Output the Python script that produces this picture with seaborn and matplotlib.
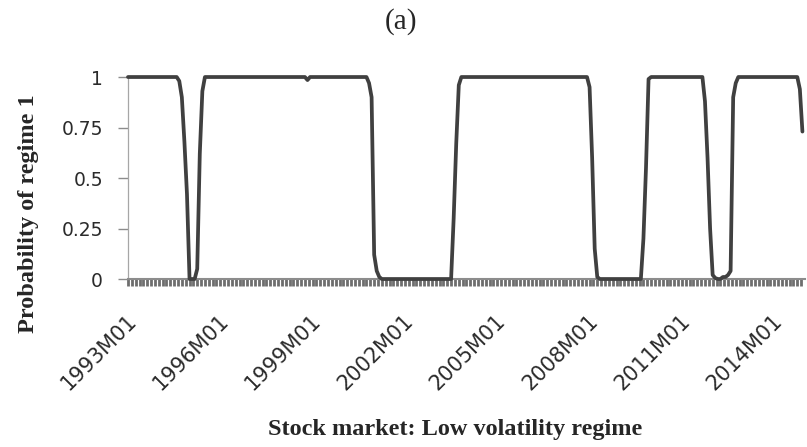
import numpy as np
import pandas as pd
import matplotlib
matplotlib.use('Agg')
import matplotlib.pyplot as plt
import matplotlib.transforms as mtransforms
import seaborn as sns

sns.set_style('white')

# Smoothed probability of regime 1, monthly, 1993M01 - 2014M12
prob = ([1.0] * 20
        + [0.98, 0.9, 0.68, 0.42, 0.0, 0.0, 0.0, 0.05, 0.62, 0.93]
        + [1.0] * 40
        + [0.985]
        + [1.0] * 23
        + [0.97, 0.9, 0.12, 0.04, 0.01]
        + [0.0] * 28
        + [0.3, 0.67, 0.96]
        + [1.0] * 50
        + [0.95, 0.6, 0.15, 0.01]
        + [0.0] * 17
        + [0.2, 0.55, 0.99]
        + [1.0] * 21
        + [0.88, 0.6, 0.25, 0.02, 0.005, 0.0, 0.0, 0.01, 0.01, 0.02, 0.04, 0.9, 0.97]
        + [1.0] * 24
        + [0.94, 0.73])

tick_labels = ['1993M01', '1996M01', '1999M01', '2002M01',
               '2005M01', '2008M01', '2011M01', '2014M01']
y_ticks = [0, 0.25, 0.5, 0.75, 1]
y_labels = ['0', '0.25', '0.5', '0.75', '1']

df = pd.DataFrame({'month': np.arange(len(prob)), 'prob': prob})

fig = plt.figure(figsize=(8.07, 4.47), dpi=100)
ax = fig.add_axes([0.1586, 0.3758, 0.8389, 0.4519])

sns.lineplot(data=df, x='month', y='prob', ax=ax, color='#404040',
             linewidth=2.7, clip_on=False, zorder=5)

ax.set_xlim(0, 264)
ax.set_ylim(0, 1)

# dense comb of tick marks, labelled every 36 months
tick_pos = np.arange(0, 264, 1.5)
labels = [''] * len(tick_pos)
for i, p in enumerate(tick_pos):
    if p % 36 == 0:
        labels[i] = tick_labels[int(p // 36)]
ax.set_xticks(tick_pos)
ax.set_xticklabels(labels, rotation=45, ha='right', va='center',
                   rotation_mode='anchor', fontsize=15, color='#2b2b2b')
ax.tick_params(axis='x', bottom=True, length=5, width=2,
               color='#6e6e6e', direction='out', pad=23)
shift = mtransforms.ScaledTranslation(0.05, 0, fig.dpi_scale_trans)
for lab in ax.get_xticklabels():
    lab.set_transform(lab.get_transform() + shift)

ax.set_yticks(y_ticks)
ax.set_yticklabels(y_labels, fontsize=13.5, color='#2b2b2b')
ax.tick_params(axis='y', left=True, length=7, width=1, color='#8c8c8c', pad=11)

for s in ['top', 'right']:
    ax.spines[s].set_visible(False)
ax.spines['bottom'].set_color('#8c8c8c')
ax.spines['bottom'].set_linewidth(1.5)
ax.spines['left'].set_color('#a6a6a6')
ax.spines['left'].set_linewidth(0.9)
ax.set_xlabel('')
ax.set_ylabel('')

fig.text(0.497, 0.951, '(a)', ha='center', va='center',
         family='Liberation Serif', fontsize=21)
fig.text(0.035, 0.521, 'Probability of regime 1', rotation=90, ha='center',
         va='center', family='Liberation Serif', fontweight='bold', fontsize=17.5)
fig.text(0.564, 0.040, 'Stock market: Low volatility regime', ha='center',
         va='center', family='Liberation Serif', fontweight='bold', fontsize=17.5)

fig.savefig('out.png', dpi=100)
